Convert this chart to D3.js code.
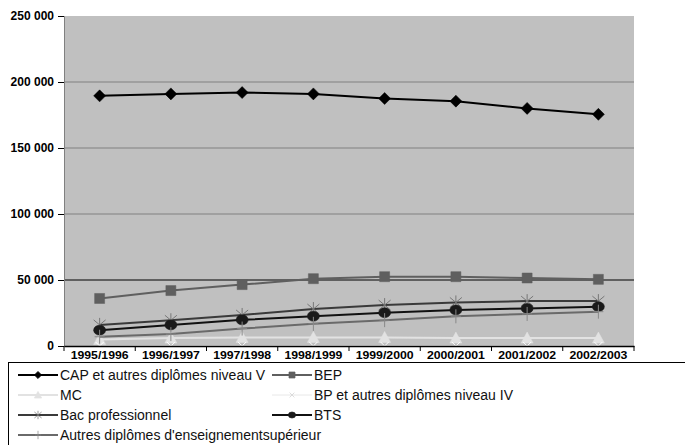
<!DOCTYPE html>
<html>
<head>
<meta charset="utf-8">
<script src="https://cdn.jsdelivr.net/npm/d3@7"></script>
<style>
  body { margin: 0; background: #fff; }
  svg text { font-family: "Liberation Sans", Arial, Helvetica, sans-serif; }
</style>
</head>
<body>
<div id="chart"></div>
<script>
// Chart data
const years = ['1995/1996', '1996/1997', '1997/1998', '1998/1999', '1999/2000', '2000/2001', '2001/2002', '2002/2003'];
const yTicks = [0, 50000, 100000, 150000, 200000, 250000];

const cap = [189500, 191000, 192000, 191000, 187500, 185500, 180000, 175500];
const bep = [36000, 42000, 46500, 51000, 52500, 52500, 51500, 50500];
const mc = [5000, 6000, 6500, 6500, 6500, 6000, 6000, 6000];
const bp = [0, 0, 0, 0, 0, 0, 0, 0];
const bacPro = [16000, 19500, 23500, 28000, 31000, 33000, 34000, 34000];
const bts = [12000, 16000, 19800, 22500, 25200, 27300, 28500, 29800];
const autresSup = [7000, 9000, 13200, 16800, 19600, 22500, 24300, 26000];

const series = [
    {name: 'CAP et autres diplômes niveau V', values: cap, color: '#000', marker: 'diamond', mcolor: '#000', width: 2},
    {name: 'BEP', values: bep, color: '#5f5f5f', marker: 'square', mcolor: '#5f5f5f', width: 2},
    {name: 'MC', values: mc, color: '#e2e2e2', marker: 'triangle', mcolor: '#e2e2e2', width: 2},
    {name: 'BP et autres diplômes niveau IV', values: bp, color: '#fff', marker: 'x', mcolor: '#fff', width: 1},
    {name: 'Bac professionnel', values: bacPro, color: '#3a3a3a', marker: 'asterisk', mcolor: '#777', width: 2},
    {name: 'BTS', values: bts, color: '#111', marker: 'circle', mcolor: '#1a1a1a', width: 2},
    {name: "Autres diplômes d'enseignementsupérieur", values: autresSup, color: '#6a6a6a', marker: 'plus', mcolor: '#888', width: 2}
];

const W = 685, H = 445;
const plot = {left: 64, right: 634, top: 16, bottom: 346};
const FONT = '"Liberation Sans", Arial, Helvetica, sans-serif';

const svg = d3.select('#chart').append('svg')
    .attr('width', W).attr('height', H)
    .attr('font-family', FONT);

const x = d3.scaleBand().domain(years).range([plot.left, plot.right]).padding(0);
const y = d3.scaleLinear().domain([0, 250000]).range([plot.bottom, plot.top]);
const cx = d => x(d) + x.bandwidth() / 2;

// plot background
svg.append('rect')
    .attr('x', plot.left).attr('y', plot.top)
    .attr('width', plot.right - plot.left).attr('height', plot.bottom - plot.top)
    .attr('fill', '#c0c0c0');

// gridlines (the 50 000 one is black in the original)
svg.append('g').selectAll('line')
    .data(yTicks.filter(t => t > 0 && t < 250000))
    .enter().append('line')
    .attr('x1', plot.left).attr('x2', plot.right)
    .attr('y1', d => y(d)).attr('y2', d => y(d))
    .attr('stroke', d => d === 50000 ? '#000' : '#808080')
    .attr('stroke-width', 1);

// marker shapes, drawn relative to the point
function markerPath(type) {
    switch (type) {
        case 'diamond': return 'M0,-6L6,0L0,6L-6,0Z';
        case 'square': return 'M-5,-5H5V5H-5Z';
        case 'triangle': return 'M0,-6L6,5H-6Z';
        case 'circle': return 'M-6,0A6,5 0 1,0 6,0A6,5 0 1,0 -6,0Z';
        case 'x': return 'M-4,-4L4,4M-4,4L4,-4';
        case 'asterisk': return 'M-6,-5L6,5M-6,5L6,-5M0,-7V7';
        case 'plus': return 'M0,-7V7M-5,0H5';
    }
}
const strokeMarkers = ['x', 'asterisk', 'plus'];

const line = d3.line()
    .x((d, i) => cx(years[i]))
    .y(d => y(d));

series.forEach(s => {
    svg.append('path')
        .datum(s.values)
        .attr('d', line)
        .attr('fill', 'none')
        .attr('stroke', s.color)
        .attr('stroke-width', s.width);
    svg.append('g').selectAll('path')
        .data(s.values)
        .enter().append('path')
        .attr('transform', (d, i) => `translate(${cx(years[i])},${y(d)})`)
        .attr('d', markerPath(s.marker))
        .attr('fill', strokeMarkers.includes(s.marker) ? 'none' : s.mcolor)
        .attr('stroke', s.mcolor)
        .attr('stroke-width', strokeMarkers.includes(s.marker) ? 1 : 0.5);
});

// y axis
const yAxis = svg.append('g')
    .attr('transform', `translate(${plot.left},0)`)
    .call(d3.axisLeft(y).tickValues(yTicks).tickSize(6).tickPadding(4)
        .tickFormat(d => d3.format(',')(d).replace(/,/g, ' ')));
yAxis.select('.domain').attr('stroke', '#808080');
yAxis.selectAll('line').attr('stroke', '#000');
yAxis.selectAll('text')
    .style('font-family', FONT).style('font-size', '12px')
    .style('font-weight', 'bold').style('fill', '#000');

// x axis
const xAxis = svg.append('g')
    .attr('transform', `translate(0,${plot.bottom})`)
    .call(d3.axisBottom(x).tickSize(0).tickPadding(5));
xAxis.select('.domain').attr('stroke', '#000').attr('stroke-width', 1.3);
xAxis.selectAll('text')
    .style('font-family', FONT).style('font-size', '11px')
    .style('font-weight', 'bold').style('fill', '#000')
    .attr('textLength', 58).attr('lengthAdjust', 'spacingAndGlyphs');

// category separators on the x axis
xAxis.append('g').selectAll('line')
    .data(years.concat(['end']))
    .enter().append('line')
    .attr('x1', d => d === 'end' ? plot.right : x(d))
    .attr('x2', d => d === 'end' ? plot.right : x(d))
    .attr('y1', 0).attr('y2', 5)
    .attr('stroke', '#000');

// legend
const legend = svg.append('g');
legend.append('rect')
    .attr('x', 8.5).attr('y', 362.5)
    .attr('width', 700).attr('height', 100)
    .attr('fill', '#fff').attr('stroke', '#000');

series.forEach((s, i) => {
    const col = i % 2, row = Math.floor(i / 2);
    const lx = col === 0 ? 18 : 272;
    const ly = 375 + row * 20;
    const item = legend.append('g').attr('transform', `translate(${lx},${ly})`);
    item.append('line')
        .attr('x1', 0).attr('x2', 40).attr('y1', 0).attr('y2', 0)
        .attr('stroke', s.color === '#fff' ? '#e8e8e8' : s.color)
        .attr('stroke-width', s.width);
    item.append('path')
        .attr('transform', 'translate(20,0) scale(0.6)')
        .attr('d', markerPath(s.marker))
        .attr('fill', strokeMarkers.includes(s.marker) ? 'none' : s.mcolor)
        .attr('stroke', s.mcolor === '#fff' ? '#cfcfcf' : s.mcolor)
        .attr('stroke-width', 1.2);
    item.append('text')
        .attr('x', 42).attr('y', 5)
        .style('font-size', '14px')
        .style('fill', '#111')
        .text(s.name);
});
</script>
</body>
</html>
